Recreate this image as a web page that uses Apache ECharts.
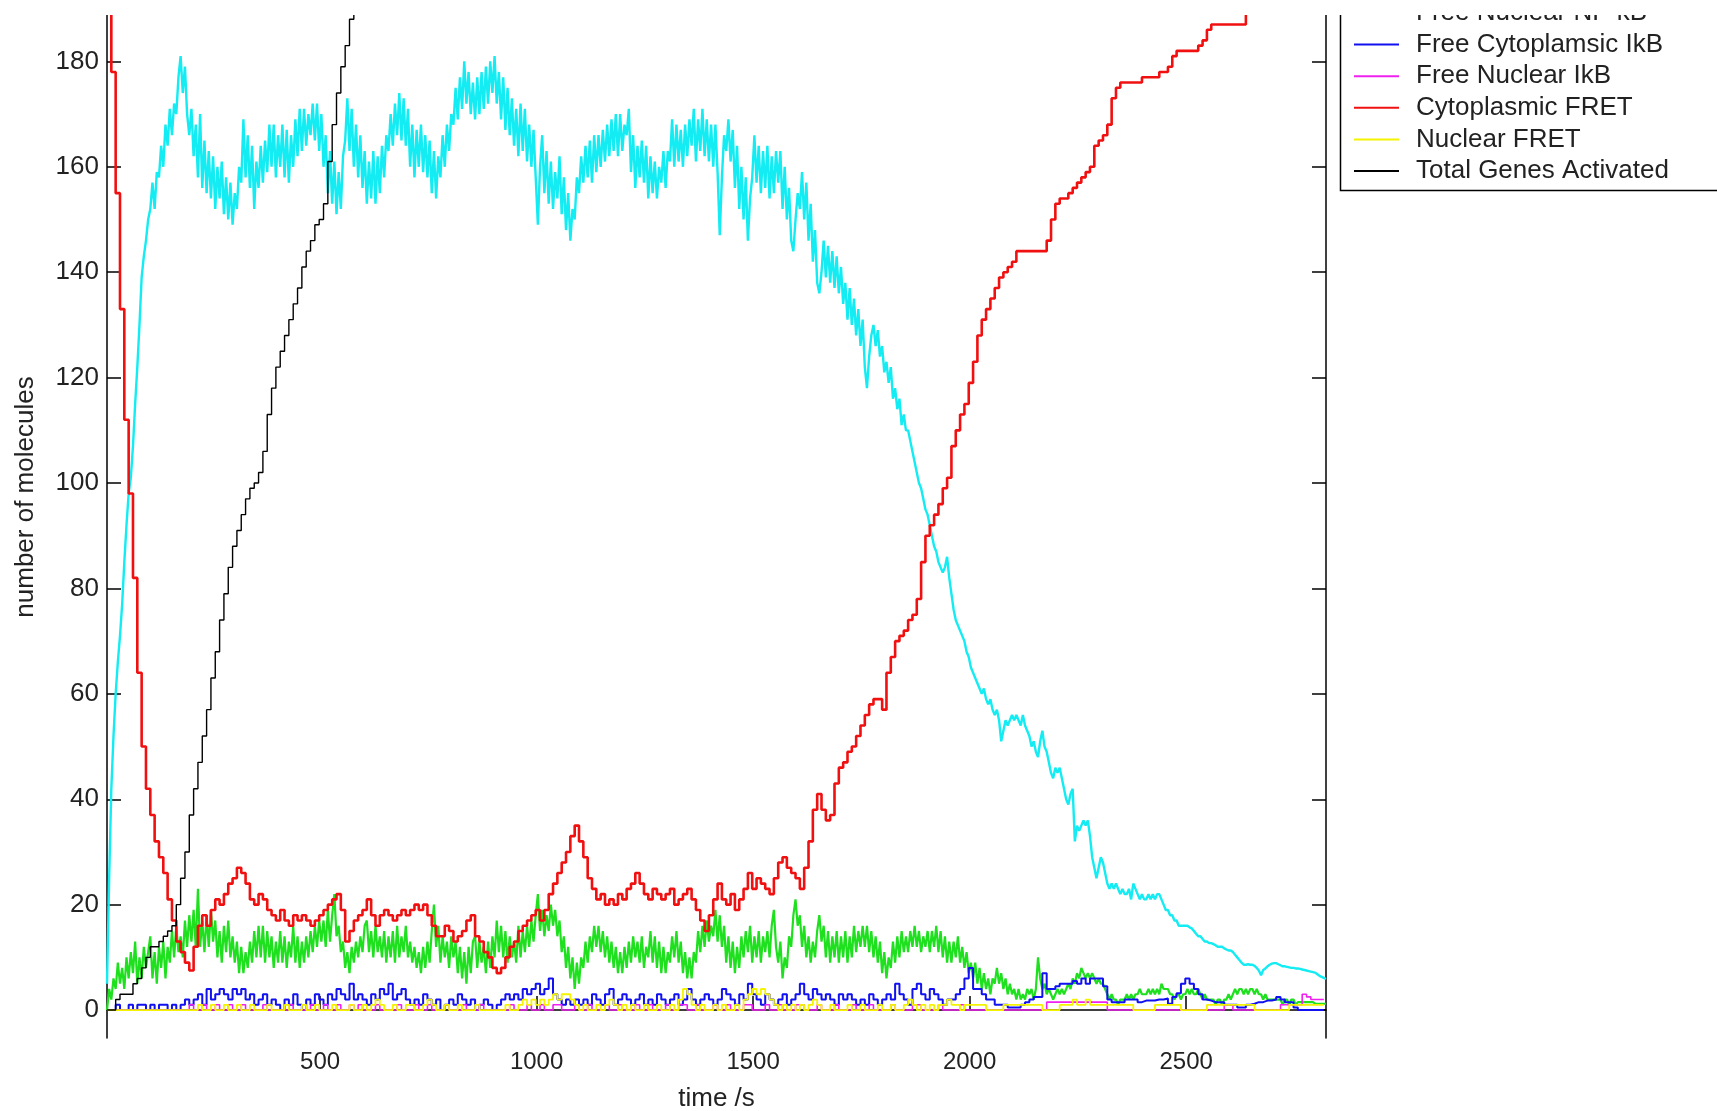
<!DOCTYPE html>
<html><head><meta charset="utf-8">
<script src="https://cdn.jsdelivr.net/npm/echarts@6/dist/echarts.min.js"></script>
<style>html,body{margin:0;padding:0;background:#fff}#c{width:1717px;height:1111px}</style>
</head><body><div id="c"></div>
<script>
const T0 = 8;        // first sample time (s)
const DT_FINE = 5;   // sampling step of the NF-kB traces (s)
const DT = 10;       // sampling step of the other traces (s)

const seriesNames = ['Free Cytoplasmic NF-kB','Free Nuclear NF-kB','Free Cytoplamsic IkB','Free Nuclear IkB','Cytoplasmic FRET','Nuclear FRET','Total Genes Activated'];
const seriesColors = ['#12ecf2','#1fe01f','#1010f0','#f020f0','#f01010','#f4f400','#000000'];
const xTicks = [500,1000,1500,2000,2500];
const yTicks = [0,20,40,60,80,100,120,140,160,180];

// cyan, 5 s steps
const cytoNFkB = [
5,25,42,52,60,66,71,77,85,92,
98,101,107,115,122,130,139,143,146,150,
152,157,152,159,158,164,160,168,164,171,
166,172,170,177,181,174,179,170,166,171,
162,168,158,170,156,165,155,163,154,162,
152,160,154,161,151,158,150,157,149,155,
152,160,157,169,158,166,156,164,152,161,
156,164,157,165,159,168,160,168,158,166,
160,168,158,167,157,166,160,169,162,171,
163,171,164,170,166,172,165,172,163,170,
160,166,155,163,153,161,151,159,152,162,
165,173,163,171,160,168,158,166,156,163,
153,161,154,163,153,162,155,164,158,166,
163,170,164,172,166,174,165,173,164,171,
160,168,158,167,160,168,159,166,158,165,
155,163,154,162,158,166,160,168,163,170,
168,175,169,177,171,180,172,178,170,176,
169,177,170,178,171,179,172,180,174,181,
172,178,169,177,167,175,166,173,164,171,
162,172,163,171,161,168,160,167,158,149,
160,166,155,163,153,161,152,159,154,162,
151,158,148,155,146,152,150,158,155,162,
157,164,158,165,157,166,159,166,160,167,
161,168,162,169,163,170,162,170,163,168,
166,171,159,166,156,164,158,165,157,164,
154,162,155,161,154,160,157,163,156,163,
161,169,160,168,161,167,160,168,162,169,
164,171,161,169,163,171,162,169,161,168,
160,168,159,147,158,166,163,169,161,167,
156,164,152,160,150,158,146,154,158,166,
157,164,155,163,156,164,154,162,155,163,
157,163,152,160,150,156,146,144,150,155,
152,159,150,157,146,153,142,148,138,136,
140,146,139,145,138,144,137,143,136,141,
134,138,131,137,130,135,128,133,126,131,
122,118,124,128,130,126,129,124,126,121,
123,119,122,116,118,114,116,111,113,110,
110,108,106,104,102,100,99,97,95,94,
92,90,88,87,85,84,83,84,86,82,
79,76,74,73,72,71,70,68,67,65,
64,63,62,61,60,61,59,58,59,57,
56,57,55,51,53,55,54,55,56,55,
56,55,54,56,54,53,52,50,51,49,
48,51,53,50,49,47,45,44,46,45,
46,44,42,40,39,41,42,32,35,34,
35,36,35,36,33,29,27,25,27,29,
28,26,24,23,24,23,24,23,22,23,
22,22,23,21,24,23,22,21,22,21,
21,22,21,22,21,22,22,21,20,19,
19,18,18,17,17,16,16,16,16,16,
15.7,15.5,15,14.5,14,14,13.5,13,13,12.7,
12.7,12.5,12.3,12,12,12,11.7,11.5,11.3,11.3,
11,10.5,10,9.5,9,8.6,8.6,8.7,8.6,8.6,
8.4,8,7.5,6.6,7.6,7.9,8.3,8.6,8.8,8.9,
8.9,8.7,8.5,8.3,8.3,8.2,8.1,8,8,7.9,
7.9,7.8,7.7,7.6,7.5,7.4,7.3,7.2,7.1,6.8,
6.5,6.3,6.1,5.9];

// green, 5 s steps
const nucNFkB = [
0,4,2,6,4,9,5,8,4,10,
6,11,7,13,5,10,6,12,8,11,
14,6,11,5,12,8,13,6,12,9,
15,10,16,11,14,10,17,12,18,13,
19,12,23,12,17,11,18,12,19,13,
17,10,15,9,16,11,17,10,14,9,
13,7,12,7,11,8,13,9,15,10,
16,10,16,9,15,10,14,8,13,9,
15,9,14,8,13,10,16,9,14,8,
13,9,14,10,15,11,16,12,17,13,
17,12,19,13,18,22,14,16,11,13,
8,11,7,12,9,13,10,14,11,16,
17,11,15,10,16,11,14,10,15,9,
14,10,15,9,16,10,14,11,16,10,
13,9,12,8,11,7,12,8,13,9,
15,20,12,16,9,14,10,13,8,14,
10,13,7,12,6,11,5,12,7,13,
14,8,13,9,12,7,13,8,14,10,
17,11,16,10,15,9,14,10,13,9,
16,10,15,11,16,12,17,13,18,22,
15,19,14,18,15,20,16,19,14,17,
11,14,8,12,6,10,4,9,5,10,
8,13,9,14,11,16,12,16,11,15,
10,14,9,13,8,12,7,11,7,12,
8,13,9,14,10,13,9,14,8,12,
10,15,9,14,8,13,7,12,7,11,
9,14,10,15,9,13,7,11,6,10,
6,11,9,15,11,16,12,17,13,16,
14,19,13,18,12,16,9,14,8,13,
7,12,8,14,10,15,11,16,9,14,
10,15,9,14,11,15,10,16,19,12,
9,13,6,10,8,14,12,18,21,16,
18,12,16,10,14,9,13,10,15,18,
13,16,10,15,9,14,10,15,9,14,
10,15,9,14,10,16,11,15,12,16,
12,16,11,15,10,14,9,13,7,11,
6,10,8,13,9,14,10,15,11,14,
11,15,12,16,12,15,11,14,12,15,
11,15,12,16,11,15,10,14,9,13,
9,13,10,14,9,12,8,11,7,9,
6,9,5,8,4,7,4,6,3,6,
5,8,5,7,4,6,3,5,3,4,
2,4,2,3,2,4,3,4,2,4,
10,6,4,5,3,4,3,2,3,4,
3,4,3,4,5,4,6,5,7,6,
8,7,6,7,6,7,6,5,6,5,
5,4,3,2,3,2,2,1,2,2,
2,3,2,3,2,3,3,4,3,3,
3,4,3,4,3,4,3,5,4,4,
4,3,3,2,3,3,2,3,3,4,
3,4,3,3,4,3,2,3,2,2,
2,2,1,2,2,1,2,2,3,2,
3,4,3,4,4,3,4,3,4,4,
3,4,3,3,2,3,2,2,2,2,
2,2,2,1,2,2,1,2,2,1,
1.5,1.5,1.5,1.5,1.5,1.5,1.5,1.5,1.2,1.2,
1.2,1.2,1.2,1.2];

// blue, 10 s steps
const cytoIkB = [
0,0,1,0,0,1,0,1,1,0,
1,0,1,1,0,1,0,1,2,1,
2,3,1,4,2,3,4,3,2,4,
3,4,2,3,1,2,3,1,2,1,
0,2,1,3,1,0,2,1,3,2,
1,3,2,4,3,2,5,2,3,2,
1,3,2,4,3,5,2,3,4,2,
1,2,1,3,2,1,2,0,1,2,
1,3,2,1,2,0,1,2,1,0,
1,2,3,2,3,2,4,3,4,5,
3,4,6,3,2,1,2,1,2,1,
2,1,3,2,1,3,4,1,2,3,
2,1,2,3,1,2,1,3,2,1,
2,3,1,2,4,2,1,2,3,2,
1,2,4,3,2,1,3,2,5,3,
2,1,3,2,1,2,3,1,2,3,
5,3,2,4,3,2,3,2,1,3,
2,3,2,1,2,1,3,2,1,2,
3,2,5,3,2,1,4,5,3,2,
4,3,2,1,2,2,3,4,6,8,
4,4,3,2,2,1,1,1,0.5,0.5,
0.5,1,1.5,2,2.5,2.5,7,4,4,4.5,
5,5,5,5.5,5,6,5,6,6,6,
4.5,2,1.5,1.5,1.5,2,2,2,1.5,1.8,
1.8,1.8,2,2,2.2,1.2,2.5,3.2,5,6,
5,4,3,2,1.8,1.5,1.5,1.5,1,1,
1,0.5,0.5,1,1.2,1.5,1.5,1.8,1.8,2,
2.5,2,1.5,1.5,0.5,0,0,0,0,0,
0,0];

// magenta, 10 s steps
const nucIkB = [
0,0,0,0,0,0,0,0,0,0,
0,0,0,0,0,0,0,0,0,1,
0,0,1,0,0,1,0,0,1,0,
0,1,0,0,0,0,1,0,0,0,
0,0,1,0,0,0,0,1,0,0,
1,0,0,1,0,0,1,0,1,0,
0,0,1,0,0,0,0,1,0,0,
0,1,0,0,1,0,0,0,1,0,
0,0,1,0,0,0,1,0,0,0,
0,0,0,1,0,0,0,1,0,0,
1,0,0,1,1,0,0,0,1,0,
0,1,0,0,0,1,0,0,1,0,
0,0,1,0,0,1,0,0,0,1,
0,0,1,1,0,0,1,0,0,0,
1,0,0,1,0,0,0,1,1,0,
0,0,1,0,0,1,0,0,0,1,
1,0,0,0,1,0,0,0,1,0,
0,0,1,0,0,0,1,0,0,0,
0,1,0,0,0,0,1,1,0,0,
0,0,1,0,0,0,0,1,0,0,
0,0,0,0,0,0,0,0,0,0,
0,0,0,0,0,0,0,1.5,1.5,1.5,
1.5,1.5,1.5,1.5,1.5,1.5,1.5,1.5,1.5,1.5,
1.5,0,0,0,0,0,0,0,0,0,
0,0,0,0,0,0,0,0,0,0,
0,0,0,0,0,0,0,0,1,1,
0,0,0,0,0,0,0,0,0,0,
0,1,1,1,1,1,3,2.5,2,2,
2,2];

// red, 10 s steps
const cytoFRET = [
200,178,155,133,112,98,82,64,50,42,
37,32,29,26,21,17,13,11,9,7.5,
12,16,18,16,19,21,20,22,24,25,
27,26,24,21,20,22,21,19,18,17,
19,17,16,18,17,18,17,16,17,18,
19,20,21,22,19,13,15,17,18,19,
21,18,16,18,19,18,17,18,19,18,
19,20,19,20,18,16,14,14,16,15,
13,14,15,17,18,14,13,11,10,8,
7,8,10,12,13,15,16,17,18,19,
17,19,22,24,26,28,30,33,35,32,
29,25,23,21,22,20,21,20,22,21,
23,24,26,24,22,21,23,22,21,22,
23,20,21,22,23,21,19,17,15,18,
21,24,21,20,22,19,21,23,26,23,
25,24,23,22,25,28,29,27,26,25,
23,27,32,38,41,38,36,37,43,46,
47,49,50,52,54,56,58,59,59,57,
64,67,70,71,72,74,75,78,85,90,
92,94,96,99,101,107,110,113,115,119,
123,128,131,133,135,137,139,140,141,142,
144,144,144,144,144,144,144,146,150,153,
154,154,155,156,157,158,159,160,164,165,
166,168,173,175,176,176,176,176,176,177,
177,177,177,178,178,179,181,182,182,182,
182,182,183,184,186,187,187,187,187,187,
187,187,187,190,191,192,193,194,195,196,
197,198,199,200,201,202,203,204,205,206,
207,208];

// yellow, 10 s steps
const nucFRET = [
0,0,0,0,0,0,0,0,0,0,
0,0,0,0,0,0,0,0,0,0,
0,1,0,0,1,0,0,1,0,0,
1,0,0,1,0,0,0,1,0,0,
0,1,0,0,0,1,0,0,1,0,
0,0,1,0,0,0,1,0,0,1,
0,1,2,1,0,0,1,0,0,1,
1,0,0,1,2,1,0,0,1,0,
0,1,0,0,0,1,0,0,0,0,
0,0,1,0,0,1,2,1,2,1,
2,1,2,3,2,3,3,2,1,0,
1,0,0,1,0,1,2,1,0,1,
0,1,0,0,1,0,0,1,0,0,
1,0,2,4,3,1,0,1,0,0,
1,0,1,0,0,1,0,2,3,4,
3,4,3,2,1,0,1,0,1,0,
1,0,1,2,1,0,0,1,0,0,
0,1,0,0,1,0,0,0,1,0,
0,1,0,0,1,2,1,0,1,0,
1,0,1,1,2,1,1,0,1,1,
1,1,1,0,0,0,0,1,1,1,
1,1,1,1,1,1,0,0,0,0,
1,1,1,2,1,1,2,1,1,1,
1,1,1,1,1,1,1,0,0,0,
0,0,1,1,1,1,1,1,0,0,
0,0,0,0,1,1,1,1,1,1,
1,1,1,1,1,0,0,0,0,0,
0,0,0,1,1,1,1,1,1,1,
1,1];

// black, 10 s steps (continues above the visible range)
const genesActivated = [
0,0,2,3,3,3,5,6,8,10,
12,12,13,14,15,16,20,25,30,37,
42,47,52,57,63,68,74,79,84,88,
91,94,97,99,100,102,106,113,118,122,
125,128,131,134,137,141,144,146,149,150,
153,161,168,174,179,183,188,192,196,200];

function pairs(vals, step) { return vals.map((v, i) => [T0 + i * step, v]); }

const traces = [
  {vals: cytoNFkB, step: DT_FINE, w: 2.4, stepMode: false},
  {vals: nucNFkB, step: DT_FINE, w: 2.2, stepMode: false},
  {vals: cytoIkB, step: DT, w: 2, stepMode: 'end'},
  {vals: nucIkB, step: DT, w: 1.6, stepMode: 'end'},
  {vals: cytoFRET, step: DT, w: 2.6, stepMode: 'end'},
  {vals: nucFRET, step: DT, w: 1.8, stepMode: 'end'},
  {vals: genesActivated, step: DT, w: 1.4, stepMode: 'end'}
];

const FONT = "'Liberation Sans', Arial, sans-serif";

const chart = echarts.init(document.getElementById('c'), null, {renderer: 'canvas'});
chart.setOption({
  animation: false,
  backgroundColor: '#ffffff',
  grid: {left: 107, right: 391, top: -44, bottom: 73, outerBoundsMode: 'none'},
  xAxis: {
    type: 'value', min: 8, max: 2823,
    name: 'time /s', nameLocation: 'middle', nameGap: 48,
    nameTextStyle: {fontSize: 26, color: '#222', fontFamily: FONT},
    axisLine: {show: true, lineStyle: {color: '#000', width: 1.5}},
    axisTick: {show: true, inside: true, length: 14, customValues: xTicks, lineStyle: {color: '#000', width: 1.5}},
    axisLabel: {show: true, customValues: xTicks, formatter: v => String(v), margin: 12, fontSize: 24, color: '#222', fontFamily: FONT},
    splitLine: {show: false}
  },
  yAxis: [{
    type: 'value', min: -5.3, max: 200, position: 'left',
    name: 'number of molecules', nameLocation: 'middle', nameGap: 68, nameRotate: 90,
    nameTextStyle: {fontSize: 26, color: '#222', fontFamily: FONT},
    axisLine: {show: true, lineStyle: {color: '#000', width: 1.5}},
    axisTick: {show: true, inside: true, length: 14, customValues: yTicks, lineStyle: {color: '#000', width: 1.5}},
    axisLabel: {show: true, customValues: yTicks, formatter: v => String(v), margin: 8, fontSize: 26, color: '#222', fontFamily: FONT},
    splitLine: {show: false}
  }, {
    type: 'value', min: -5.3, max: 200, position: 'right',
    axisLine: {show: true, lineStyle: {color: '#000', width: 1.5}},
    axisTick: {show: true, inside: true, length: 14, customValues: yTicks, lineStyle: {color: '#000', width: 1.5}},
    axisLabel: {show: false},
    splitLine: {show: false}
  }],
  legend: {
    show: true,
    data: seriesNames.slice(1),
    orient: 'vertical', left: 1353, top: 0, padding: 0,
    itemWidth: 45, itemHeight: 14, itemGap: 5.6,
    itemStyle: {opacity: 0},
    formatter: name => '{t|' + name + '}',
    textStyle: {
      fontSize: 26, color: '#222', fontFamily: FONT,
      rich: {t: {fontSize: 26, lineHeight: 24, color: '#222', fontFamily: FONT, padding: [0, 0, 0, 12]}}
    },
    z: 10
  },
  graphic: [
    {type: 'rect', z: 1, silent: true, shape: {x: 1340.5, y: -20, width: 500, height: 210.5}, style: {fill: '#fff', stroke: '#000', lineWidth: 1.5}},
    {type: 'rect', z: 100, silent: true, shape: {x: 0, y: 0, width: 1717, height: 15}, style: {fill: '#fff'}}
  ],
  series: traces.map((tr, k) => ({
    name: seriesNames[k], type: 'line', data: pairs(tr.vals, tr.step),
    step: tr.stepMode, symbol: 'none', showSymbol: false,
    lineStyle: {color: seriesColors[k], width: tr.w}, itemStyle: {color: seriesColors[k]},
    z: 2 + k * 0.01
  }))
});
</script></body></html>
